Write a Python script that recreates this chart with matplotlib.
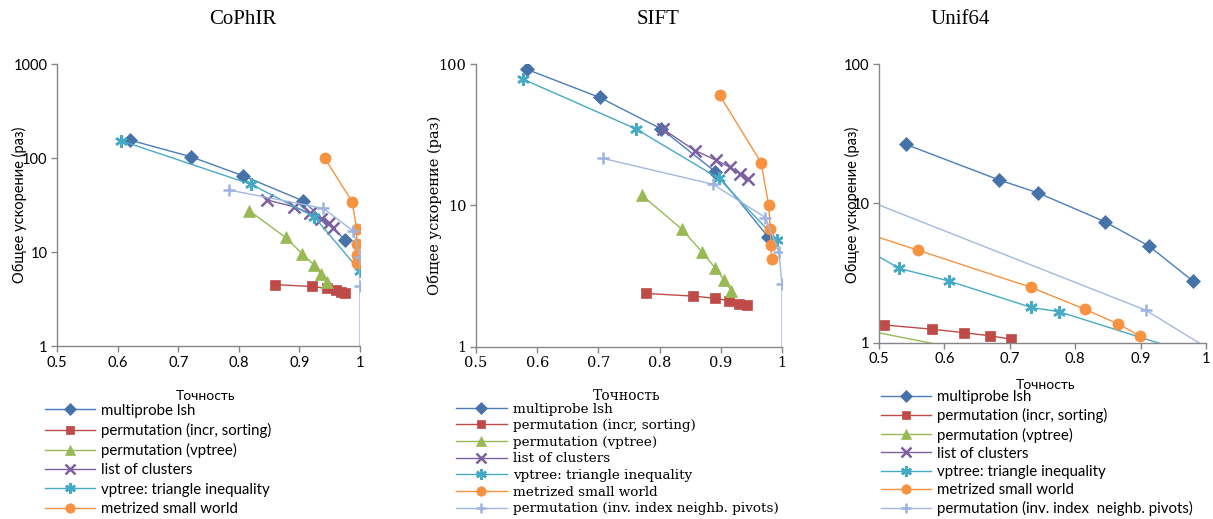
import matplotlib
matplotlib.use("Agg")
import matplotlib.pyplot as plt
from matplotlib.ticker import FixedLocator, FixedFormatter, NullLocator

# ---------------- data ----------------
series_labels = [
    "multiprobe lsh",
    "permutation (incr, sorting)",
    "permutation (vptree)",
    "list of clusters",
    "vptree: triangle inequality",
    "metrized small world",
    "permutation (inv. index neighb. pivots)",
]
series_labels_unif = series_labels[:6] + ["permutation (inv. index  neighb. pivots)"]

# CoPhIR
cophir_mlsh_x = [0.620, 0.721, 0.806, 0.906, 0.976]
cophir_mlsh_y = [155, 103, 65, 35, 13.4]
cophir_perm_sort_x = [0.859, 0.920, 0.946, 0.960, 0.968, 0.975]
cophir_perm_sort_y = [4.5, 4.3, 4.1, 3.95, 3.8, 3.7]
cophir_perm_vp_x = [0.817, 0.877, 0.905, 0.924, 0.935, 0.946]
cophir_perm_vp_y = [27.5, 14.3, 9.5, 7.3, 5.8, 4.8]
cophir_loc_x = [0.847, 0.891, 0.918, 0.936, 0.949, 0.956]
cophir_loc_y = [35.7, 30.3, 25.8, 22.4, 20.2, 18.1]
cophir_vptree_x = [0.605, 0.820, 0.924, 1.000]
cophir_vptree_y = [153, 52.5, 23.8, 6.3]
cophir_msw_x = [0.942, 0.987, 0.9945, 0.9947, 0.9948, 0.995]
cophir_msw_y = [99, 34.3, 17.6, 12.1, 9.3, 7.6]
cophir_inv_x = [0.783, 0.939, 0.989, 1.000, 1.000, 1.000]
cophir_inv_y = [45.7, 29.2, 16.7, 8.9, 4.35, 0.5]

# SIFT
sift_mlsh_x = [0.583, 0.702, 0.803, 0.891, 0.977]
sift_mlsh_y = [91.7, 58, 34.7, 17.3, 6.0]
sift_perm_sort_x = [0.778, 0.855, 0.891, 0.913, 0.930, 0.942]
sift_perm_sort_y = [2.38, 2.28, 2.2, 2.11, 2.02, 1.97]
sift_perm_vp_x = [0.771, 0.836, 0.869, 0.891, 0.905, 0.917]
sift_perm_vp_y = [11.8, 6.8, 4.7, 3.6, 2.97, 2.49]
sift_loc_x = [0.806, 0.858, 0.892, 0.915, 0.931, 0.944]
sift_loc_y = [34.5, 24.4, 20.9, 18.6, 16.8, 15.4]
sift_vptree_x = [0.577, 0.761, 0.897, 0.992]
sift_vptree_y = [78, 34.8, 15.5, 5.7]
sift_msw_x = [0.898, 0.966, 0.978, 0.981, 0.982, 0.983]
sift_msw_y = [60.3, 20, 10.1, 6.8, 5.2, 4.2]
sift_inv_x = [0.707, 0.887, 0.973, 0.995, 1.000, 1.000]
sift_inv_y = [21.5, 14.1, 8.2, 4.65, 2.76, 0.5]

# Unif64
unif_mlsh_x = [0.541, 0.684, 0.743, 0.845, 0.913, 0.980]
unif_mlsh_y = [26.5, 14.7, 11.9, 7.4, 4.93, 2.77]
unif_perm_sort_x = [0.508, 0.581, 0.630, 0.670, 0.702]
unif_perm_sort_y = [1.34, 1.25, 1.18, 1.12, 1.06]
unif_perm_vp_x = [0.45, 0.62]
unif_perm_vp_y = [1.31, 0.91]
unif_loc_x = []
unif_loc_y = []
unif_vptree_x = [0.45, 0.531, 0.607, 0.733, 0.775, 0.96]
unif_vptree_y = [5.65, 3.41, 2.77, 1.79, 1.67, 0.89]
unif_msw_x = [0.40, 0.559, 0.732, 0.815, 0.866, 0.899]
unif_msw_y = [8.1, 4.62, 2.5, 1.74, 1.36, 1.12]
unif_inv_x = [0.40, 0.908, 1.03]
unif_inv_y = [14.9, 1.71, 0.76]

# ---------------- styles ----------------
line_colors = ["#4A7EBB", "#BE4B48", "#98B954", "#7D60A0", "#46AAC5", "#F69240", "#A3B8E0"]
marker_colors = ["#4572A7", "#BE4B48", "#98B954", "#7D60A0", "#46AAC5", "#F69240", "#9CB4DF"]
markers = ["D", "s", "^", "x", (6, 2, 0), "o", "+"]
msizes = [7, 7, 8, 8, 9, 8, 9]

W, H = 1213, 519
fig = plt.figure(figsize=(W / 100, H / 100), dpi=100)

def fx(px):
    return px / W

def fy(py):
    return 1 - py / H

SANS = "Lato"
SERIF = "DejaVu Serif"
GRAY = "#868686"

panels = [
    dict(title="CoPhIR", title_xy=(243, 19), ax=(57.3, 64, 360, 346),
         ymax=1000, font=SANS, tick_fs=10.5, ylab_xy=(19, 205), xlab_xy=(205, 396),
         leg_xy=(45, 403.5), leg_fs=10.8, leg_sp=0.35, leg_hl=3.3, labels=series_labels,
         leg_n=6,
         data=[(cophir_mlsh_x, cophir_mlsh_y), (cophir_perm_sort_x, cophir_perm_sort_y),
               (cophir_perm_vp_x, cophir_perm_vp_y), (cophir_loc_x, cophir_loc_y),
               (cophir_vptree_x, cophir_vptree_y), (cophir_msw_x, cophir_msw_y),
               (cophir_inv_x, cophir_inv_y)]),
    dict(title="SIFT", title_xy=(658, 19), ax=(476, 64, 782, 346.7),
         ymax=100, font=SERIF, tick_fs=10.5, ylab_xy=(435, 205), xlab_xy=(627, 396),
         leg_xy=(456, 402.5), leg_fs=9.7, leg_sp=0.27, leg_hl=3.75, labels=series_labels,
         leg_n=7,
         data=[(sift_mlsh_x, sift_mlsh_y), (sift_perm_sort_x, sift_perm_sort_y),
               (sift_perm_vp_x, sift_perm_vp_y), (sift_loc_x, sift_loc_y),
               (sift_vptree_x, sift_vptree_y), (sift_msw_x, sift_msw_y),
               (sift_inv_x, sift_inv_y)]),
    dict(title="Unif64", title_xy=(960, 19), ax=(879, 64, 1206, 342.7),
         ymax=100, font=SANS, tick_fs=10.5, ylab_xy=(852, 205), xlab_xy=(1046, 385),
         leg_xy=(881, 390), leg_fs=10.8, leg_sp=0.28, leg_hl=3.3, labels=series_labels_unif,
         leg_n=7,
         data=[(unif_mlsh_x, unif_mlsh_y), (unif_perm_sort_x, unif_perm_sort_y),
               (unif_perm_vp_x, unif_perm_vp_y), (unif_loc_x, unif_loc_y),
               (unif_vptree_x, unif_vptree_y), (unif_msw_x, unif_msw_y),
               (unif_inv_x, unif_inv_y)]),
]

for p in panels:
    l, t, r, b = p["ax"]
    ax = fig.add_axes([fx(l), fy(b), fx(r - l), (b - t) / H])
    handles = []
    for i, (xs, ys) in enumerate(p["data"]):
        h, = ax.plot(xs, ys, color=line_colors[i], lw=1.0, marker=markers[i],
                     ms=msizes[i], mfc=marker_colors[i], mec=marker_colors[i],
                     mew=1.8 if markers[i] in ("x", "+") or isinstance(markers[i], tuple) else 0.5,
                     label=p["labels"][i])
        handles.append(h)
    ax.set_yscale("log")
    ax.set_xlim(0.5, 1.0)
    ax.set_ylim(1, p["ymax"])
    xt = [0.5, 0.6, 0.7, 0.8, 0.9, 1.0]
    ax.xaxis.set_major_locator(FixedLocator(xt))
    ax.xaxis.set_major_formatter(FixedFormatter(["0.5", "0.6", "0.7", "0.8", "0.9", "1"]))
    yt = [1, 10, 100, 1000][: (3 if p["ymax"] == 100 else 4)]
    ax.yaxis.set_major_locator(FixedLocator(yt))
    ax.yaxis.set_major_formatter(FixedFormatter([str(v) for v in yt]))
    ax.yaxis.set_minor_locator(NullLocator())
    for s in ("top", "right"):
        ax.spines[s].set_visible(False)
    for s in ("left", "bottom"):
        ax.spines[s].set_color(GRAY)
        ax.spines[s].set_linewidth(1.0)
    ax.tick_params(direction="out", length=4, width=1, color=GRAY,
                   labelsize=p["tick_fs"], labelcolor="black", pad=3)
    for lab in ax.get_xticklabels() + ax.get_yticklabels():
        lab.set_fontfamily(p["font"])
    ax.patch.set_alpha(0)

    fig.text(fx(p["title_xy"][0]), fy(p["title_xy"][1]), p["title"], ha="center", va="center",
             fontsize=15, family="Liberation Serif")
    fig.text(fx(p["ylab_xy"][0]), fy(p["ylab_xy"][1]), "Общее ускорение (раз)", rotation=90,
             ha="center", va="center", fontsize=10.5, family=p["font"])
    fig.text(fx(p["xlab_xy"][0]), fy(p["xlab_xy"][1]), "Точность", ha="center", va="center",
             fontsize=10, family=p["font"])

    ax.legend(handles=handles[: p["leg_n"]], loc="upper left",
              bbox_to_anchor=(fx(p["leg_xy"][0]), fy(p["leg_xy"][1])),
              bbox_transform=fig.transFigure, frameon=False, numpoints=1,
              handlelength=p["leg_hl"], handletextpad=0.45, labelspacing=p["leg_sp"],
              borderpad=0, borderaxespad=0, markerscale=0.85,
              prop=dict(family=p["font"], size=p["leg_fs"]))

fig.savefig("out.png", dpi=100)
